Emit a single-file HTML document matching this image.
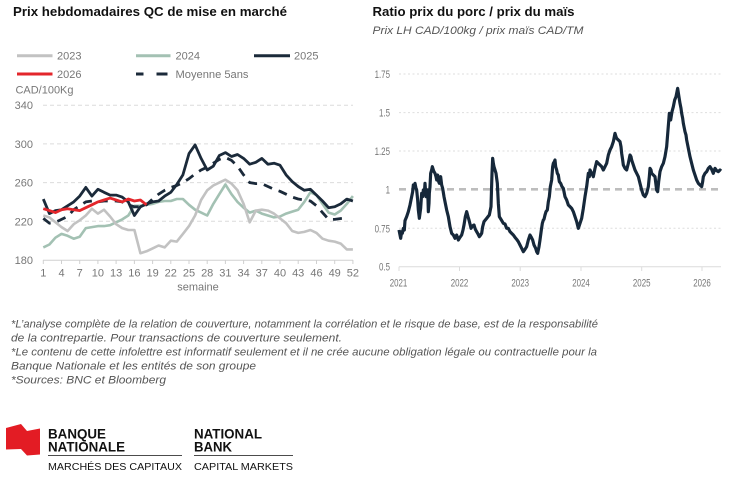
<!DOCTYPE html>
<html><head><meta charset="utf-8"><style>
html,body{margin:0;padding:0;background:#fff;}
svg{display:block;}
text{font-family:"Liberation Sans",Arial,sans-serif;}
</style></head><body>
<svg width="750" height="490" viewBox="0 0 750 490" xmlns="http://www.w3.org/2000/svg">
<rect width="750" height="490" fill="#fff"/>

<!-- LEFT CHART -->
<text x="13" y="16" font-size="12.5" font-weight="bold" fill="#111" textLength="274" lengthAdjust="spacingAndGlyphs">Prix hebdomadaires QC de mise en marché</text>

<!-- legend -->
<g stroke-width="3">
<line x1="17" y1="55.7" x2="52.5" y2="55.7" stroke="#c2c2c2"/>
<line x1="136" y1="55.7" x2="170.5" y2="55.7" stroke="#a3c1b3"/>
<line x1="254" y1="55.7" x2="290" y2="55.7" stroke="#1b2a3a"/>
<line x1="17" y1="74" x2="52.5" y2="74" stroke="#e3262b"/>
<line x1="136" y1="74" x2="143.5" y2="74" stroke="#1b2a3a"/>
<line x1="156.5" y1="74" x2="167.5" y2="74" stroke="#1b2a3a"/>
</g>
<g font-size="11" fill="#777">
<text x="57" y="59.5">2023</text>
<text x="175.5" y="59.5">2024</text>
<text x="294" y="59.5">2025</text>
<text x="57" y="78">2026</text>
<text x="175.5" y="78" textLength="73" lengthAdjust="spacingAndGlyphs">Moyenne 5ans</text>
<text x="15.5" y="93.5" textLength="58" lengthAdjust="spacingAndGlyphs">CAD/100Kg</text>
</g>

<!-- gridlines -->
<g stroke="#dcdcdc" stroke-width="1" stroke-dasharray="4,3">
<line x1="43" y1="105.2" x2="353" y2="105.2"/>
<line x1="43" y1="143.9" x2="353" y2="143.9"/>
<line x1="43" y1="182.6" x2="353" y2="182.6"/>
<line x1="43" y1="221.3" x2="353" y2="221.3"/>
</g>
<line x1="43" y1="260.3" x2="353" y2="260.3" stroke="#d0d0d0" stroke-width="1"/>
<g stroke="#d0d0d0" stroke-width="1">
<line x1="43.3" y1="260" x2="43.3" y2="264"/><line x1="61.5" y1="260" x2="61.5" y2="264"/><line x1="79.7" y1="260" x2="79.7" y2="264"/><line x1="97.9" y1="260" x2="97.9" y2="264"/><line x1="116.1" y1="260" x2="116.1" y2="264"/><line x1="134.4" y1="260" x2="134.4" y2="264"/><line x1="152.6" y1="260" x2="152.6" y2="264"/><line x1="170.8" y1="260" x2="170.8" y2="264"/><line x1="189" y1="260" x2="189" y2="264"/><line x1="207.2" y1="260" x2="207.2" y2="264"/><line x1="225.4" y1="260" x2="225.4" y2="264"/><line x1="243.6" y1="260" x2="243.6" y2="264"/><line x1="261.8" y1="260" x2="261.8" y2="264"/><line x1="280" y1="260" x2="280" y2="264"/><line x1="298.2" y1="260" x2="298.2" y2="264"/><line x1="316.5" y1="260" x2="316.5" y2="264"/><line x1="334.7" y1="260" x2="334.7" y2="264"/><line x1="352.9" y1="260" x2="352.9" y2="264"/>
</g>
<g font-size="11" fill="#777" text-anchor="end">
<text x="33" y="109">340</text>
<text x="33" y="148">300</text>
<text x="33" y="186.5">260</text>
<text x="33" y="225.3">220</text>
<text x="33" y="264">180</text>
</g>
<g font-size="11" fill="#777" text-anchor="middle">
<text x="43.3" y="276.5">1</text><text x="61.5" y="276.5">4</text><text x="79.7" y="276.5">7</text><text x="97.9" y="276.5">10</text><text x="116.1" y="276.5">13</text><text x="134.4" y="276.5">16</text><text x="152.6" y="276.5">19</text><text x="170.8" y="276.5">22</text><text x="189" y="276.5">25</text><text x="207.2" y="276.5">28</text><text x="225.4" y="276.5">31</text><text x="243.6" y="276.5">34</text><text x="261.8" y="276.5">37</text><text x="280" y="276.5">40</text><text x="298.2" y="276.5">43</text><text x="316.5" y="276.5">46</text><text x="334.7" y="276.5">49</text><text x="352.9" y="276.5">52</text>
<text x="198" y="290.5">semaine</text>
</g>

<g fill="none" stroke-linejoin="round" stroke-linecap="butt" stroke-width="2.6">
<!-- 2024 -->
<polyline stroke="#a3c1b3" points="43.3,247.4 49.4,244.5 55.4,237.7 61.5,233.9 67.6,235.8 73.7,238.7 79.7,236.8 85.8,228.1 91.9,227.1 97.9,226.1 104,226.1 110.1,225.2 116.1,222.3 122.2,219.4 128.3,215.5 134.4,205.8 140.4,205.8 146.5,204.8 152.6,203.9 158.6,201.9 164.7,201 170.8,201 176.8,199 182.9,199 189,204.8 195.1,209.7 201.1,212.6 207.2,215.5 213.3,203.9 219.3,194.2 225.4,184.5 231.5,194.2 237.5,201.9 243.6,207.7 249.7,212.6 255.8,210.6 261.8,213.6 267.9,215.5 274,217.4 280,216.5 286.1,213.6 292.2,211.6 298.2,209.7 304.3,201.9 310.4,192.3 316.5,195.1 322.5,203.9 328.6,212.6 334.7,214.5 340.7,210.6 346.8,203.9 352.9,196.1"/>
<!-- 2023 -->
<polyline stroke="#c2c2c2" points="43.3,215.5 49.4,217.4 55.4,222.3 61.5,227.1 67.6,231 73.7,224.2 79.7,220.3 85.8,215.5 91.9,208.7 97.9,213.6 104,209.7 110.1,216.5 116.1,224.2 122.2,228.1 128.3,230 134.4,230 140.4,253.2 146.5,251.3 152.6,248.4 158.6,245.5 164.7,247.4 170.8,240.7 176.8,241.6 182.9,233.9 189,226.1 195.1,215.5 201.1,200 207.2,190.3 213.3,185.5 219.3,182.6 225.4,179.7 231.5,183.6 237.5,190.3 243.6,203.9 249.7,222.3 255.8,210.6 261.8,209.7 267.9,210.6 274,213.6 280,218.4 286.1,223.2 292.2,231 298.2,232.9 304.3,231.9 310.4,230 316.5,232.9 322.5,238.7 328.6,240.7 334.7,241.6 340.7,243.6 346.8,249.4 352.9,249.4"/>
<!-- 5-year avg -->
<polyline stroke="#1b2a3a" stroke-width="2.8" stroke-dasharray="9,7" points="43.3,218.4 49.4,223.2 55.4,222.3 61.5,219.4 67.6,216.5 73.7,209.7 79.7,205.8 85.8,201.9 91.9,201 97.9,201.9 104,201 110.1,201 116.1,201 122.2,201.9 128.3,204.8 134.4,206.8 140.4,206.8 146.5,204.8 152.6,199 158.6,194.2 164.7,190.3 170.8,187.4 176.8,185.5 182.9,182.6 189,178.7 195.1,173.9 201.1,170 207.2,167.1 213.3,163.2 219.3,159.4 225.4,157.4 231.5,160.4 237.5,166.2 243.6,174.9 249.7,182.6 255.8,183.6 261.8,183.6 267.9,186.5 274,189.3 280,191.3 286.1,194.2 292.2,197.1 298.2,199 304.3,200 310.4,201 316.5,205.8 322.5,212.6 328.6,219.4 334.7,219.4 343.5,218.2"/>
<!-- 2025 -->
<polyline stroke="#1b2a3a" stroke-width="2.8" points="43.3,199.1 49.4,213.6 55.4,210.6 61.5,209.7 67.6,205.8 73.7,201.9 79.7,196.1 85.8,187.4 91.9,196.1 97.9,189.3 104,192.3 110.1,195.1 116.1,195.1 122.2,197.1 128.3,201.9 134.4,215.5 140.4,206.8 146.5,203.9 152.6,201.9 158.6,201 164.7,196.1 170.8,192.3 176.8,184.5 182.9,174.9 189,153.6 195.1,144.9 201.1,158.4 207.2,170 213.3,166.2 219.3,155.5 225.4,152.6 231.5,156.5 237.5,154.5 243.6,158.4 249.7,164.2 255.8,162.3 261.8,158.4 267.9,164.2 274,163.2 280,165.2 286.1,174.9 292.2,181.6 298.2,186.5 304.3,190.3 310.4,189.3 316.5,195.1 322.5,201 328.6,207.7 334.7,206.8 340.7,203.9 346.8,199.1 352.9,201"/>
<!-- 2026 -->
<polyline stroke="#e3262b" stroke-width="2.8" points="43.3,208.7 49.4,210.6 55.4,212.6 61.5,209.7 67.6,208.7 73.7,209.7 79.7,210.6 85.8,207.7 91.9,204.8 97.9,201.9 104,200 110.1,198.1 116.1,200 122.2,201.9 128.3,199 134.4,201 140.4,200 146.5,204.8"/>
</g>

<!-- RIGHT CHART -->
<text x="372.5" y="16" font-size="12.5" font-weight="bold" fill="#111" textLength="202" lengthAdjust="spacingAndGlyphs">Ratio prix du porc / prix du maïs</text>
<text x="372.5" y="34" font-size="11" font-style="italic" fill="#555" textLength="211" lengthAdjust="spacingAndGlyphs">Prix LH CAD/100kg / prix maïs CAD/TM</text>

<g stroke="#dedede" stroke-width="1" stroke-dasharray="2,2.5">
<line x1="399" y1="74" x2="721" y2="74"/>
<line x1="399" y1="112.6" x2="721" y2="112.6"/>
<line x1="399" y1="151" x2="721" y2="151"/>
<line x1="399" y1="228.3" x2="721" y2="228.3"/>
</g>
<line x1="399" y1="266.7" x2="721" y2="266.7" stroke="#dcdcdc" stroke-width="1"/>
<g stroke="#dcdcdc" stroke-width="1">
<line x1="399" y1="266.7" x2="399" y2="271"/><line x1="459.5" y1="266.7" x2="459.5" y2="271"/><line x1="520.2" y1="266.7" x2="520.2" y2="271"/><line x1="581" y1="266.7" x2="581" y2="271"/><line x1="641.7" y1="266.7" x2="641.7" y2="271"/><line x1="702" y1="266.7" x2="702" y2="271"/>
</g>
<g font-size="11" fill="#777" text-anchor="end">
<text transform="translate(390,78) scale(0.72,1)">1.75</text>
<text transform="translate(390,116.5) scale(0.72,1)">1.5</text>
<text transform="translate(390,155) scale(0.72,1)">1.25</text>
<text transform="translate(390,193.3) scale(0.72,1)">1</text>
<text transform="translate(390,232.3) scale(0.72,1)">0.75</text>
<text transform="translate(390,270.7) scale(0.72,1)">0.5</text>
</g>
<g font-size="11" fill="#777" text-anchor="middle">
<text transform="translate(398.5,286.5) scale(0.72,1)">2021</text>
<text transform="translate(459.5,286.5) scale(0.72,1)">2022</text>
<text transform="translate(520.2,286.5) scale(0.72,1)">2023</text>
<text transform="translate(581,286.5) scale(0.72,1)">2024</text>
<text transform="translate(641.7,286.5) scale(0.72,1)">2025</text>
<text transform="translate(702,286.5) scale(0.72,1)">2026</text>
</g>
<line x1="399" y1="189.3" x2="721" y2="189.3" stroke="#bdbdbd" stroke-width="2.6" stroke-dasharray="7,5"/>

<g transform="translate(360,0) scale(0.33333)">
<polyline fill="none" stroke="#16283a" stroke-width="9.5" stroke-linejoin="round" points="117,690 120,705 122,715 125,695 127,700 130,685 133,690 135,662 140,650 145,635 150,615 155,590 158,575 160,555 163,560 165,550 168,565 170,570 173,600 175,630 178,655 180,640 182,625 185,580 188,590 190,570 193,580 195,550 198,590 200,575 202,570 204,600 205,635 207,610 208,580 210,560 212,520 215,510 217,500 220,510 222,515 225,520 228,530 230,540 233,525 236,545 238,550 240,535 242,530 245,555 248,565 252,590 255,605 260,630 265,650 270,680 275,700 280,705 285,715 290,705 295,720 300,712 305,705 309,690 312,675 316,650 320,635 324,650 327,660 330,672 333,685 337,678 342,675 346,688 350,695 354,702 358,710 362,705 365,700 368,680 372,665 376,660 380,655 384,650 388,645 391,630 393,620 396,520 398,475 400,490 402,500 405,510 408,520 410,535 412,550 415,610 418,650 424,660 430,670 435,672 440,685 445,685 450,695 455,700 460,705 465,712 470,718 475,725 480,735 485,745 490,755 495,748 500,740 505,720 510,705 514,712 518,720 522,735 527,745 530,755 533,760 537,740 540,720 544,690 547,670 550,660 552,658 555,645 558,635 562,630 565,605 568,590 571,560 575,540 578,500 580,490 583,485 585,480 587,500 590,510 592,520 595,525 598,545 602,550 606,560 610,565 615,590 620,600 625,615 630,620 635,625 640,635 645,650 650,665 655,685 660,670 665,655 670,625 675,590 680,560 685,520 688,530 690,510 695,520 700,530 705,505 710,485 715,490 720,495 725,500 730,510 735,500 740,490 745,465 750,450 755,440 760,425 763,410 765,400 768,410 770,415 775,420 780,425 783,440 785,460 788,480 790,495 795,505 800,510 805,490 810,465 813,470 815,480 820,495 825,510 830,520 835,530 840,550 845,570 850,585 855,590 860,580 865,560 868,530 870,505 873,510 875,520 880,525 885,530 888,555 890,570 893,575 896,545 900,515 905,500 910,490 915,470 920,440 924,390 928,340 932,360 936,335 940,320 944,300 948,290 951,275 953,265 956,285 960,310 963,325 965,340 968,355 970,370 973,385 975,395 978,405 980,420 985,445 990,470 995,490 1000,510 1005,525 1010,540 1015,550 1020,555 1025,560 1028,545 1030,530 1035,520 1040,515 1045,505 1050,500 1055,508 1060,520 1063,510 1065,505 1070,512 1075,515 1080,510 1083,513"/>
</g>

<!-- FOOTNOTES -->
<g font-size="11" font-style="italic" fill="#555">
<text x="11" y="327.3" textLength="587" lengthAdjust="spacingAndGlyphs">*L’analyse complète de la relation de couverture, notamment la corrélation et le risque de base, est de la responsabilité</text>
<text x="11" y="341.5" textLength="331" lengthAdjust="spacingAndGlyphs">de la contrepartie. Pour transactions de couverture seulement.</text>
<text x="11" y="355.5" textLength="586" lengthAdjust="spacingAndGlyphs">*Le contenu de cette infolettre est informatif seulement et il ne crée aucune obligation légale ou contractuelle pour la</text>
<text x="11" y="369.3" textLength="245" lengthAdjust="spacingAndGlyphs">Banque Nationale et les entités de son groupe</text>
<text x="11" y="383.3" textLength="155" lengthAdjust="spacingAndGlyphs">*Sources: BNC et Bloomberg</text>
</g>

<!-- LOGO -->
<path d="M6,428 L21,424 L27,431 L40,428.5 L40,454.5 L27,455.5 L21,449 L6,449.5 Z" fill="#e31c24"/>
<g font-weight="bold" font-size="13.5" fill="#111">
<text x="48" y="438.3" textLength="58" lengthAdjust="spacingAndGlyphs">BANQUE</text>
<text x="48" y="451.3" textLength="77" lengthAdjust="spacingAndGlyphs">NATIONALE</text>
<text x="194" y="438.3" textLength="68" lengthAdjust="spacingAndGlyphs">NATIONAL</text>
<text x="194" y="451.3" textLength="38" lengthAdjust="spacingAndGlyphs">BANK</text>
</g>
<line x1="48" y1="455.6" x2="182" y2="455.6" stroke="#333" stroke-width="0.9"/>
<line x1="194" y1="455.6" x2="293" y2="455.6" stroke="#333" stroke-width="0.9"/>
<g font-size="10" fill="#111">
<text x="48" y="470" textLength="134" lengthAdjust="spacingAndGlyphs">MARCHÉS DES CAPITAUX</text>
<text x="194" y="470" textLength="99" lengthAdjust="spacingAndGlyphs">CAPITAL MARKETS</text>
</g>
</svg>
</body></html>
